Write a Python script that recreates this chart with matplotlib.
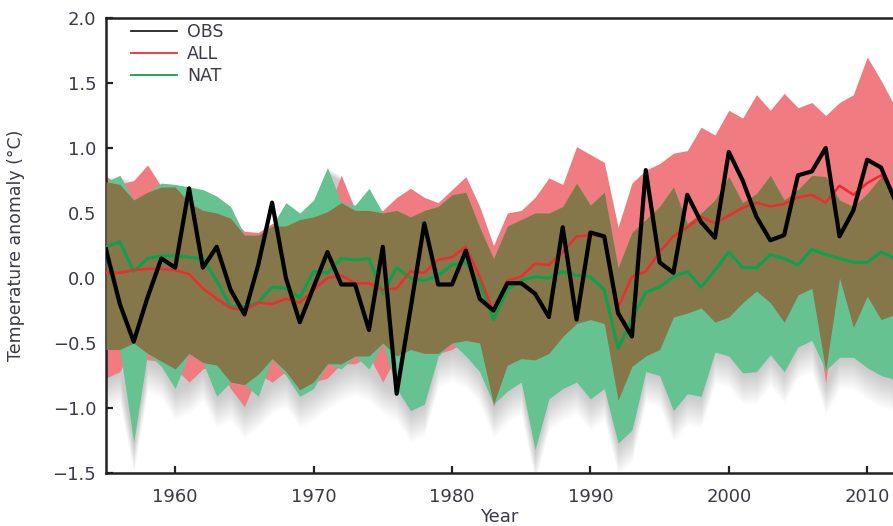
import numpy as np
import matplotlib
matplotlib.use("Agg")
import matplotlib.pyplot as plt

# Annual series, 1955-2012
years = list(range(1955, 2013))

obs = [0.22, -0.20, -0.49, -0.15, 0.15, 0.08, 0.69, 0.08, 0.24, -0.09,
       -0.28, 0.10, 0.58, 0.00, -0.34, -0.07, 0.20, -0.05, -0.05, -0.40,
       0.24, -0.89, -0.24, 0.42, -0.05, -0.05, 0.21, -0.16, -0.25, -0.04,
       -0.04, -0.12, -0.30, 0.39, -0.32, 0.35, 0.32, -0.27, -0.45, 0.83,
       0.12, 0.04, 0.64, 0.43, 0.31, 0.97, 0.75, 0.47, 0.29, 0.33,
       0.79, 0.82, 1.00, 0.32, 0.52, 0.91, 0.85, 0.60]

all_mean = [0.04, 0.04, 0.06, 0.07, 0.07, 0.06, 0.03, -0.08, -0.16, -0.23,
            -0.25, -0.19, -0.20, -0.16, -0.19, -0.09, 0.00, 0.02, -0.04, -0.04,
            -0.09, -0.08, 0.05, 0.04, 0.14, 0.16, 0.24, 0.01, -0.26, -0.02,
            0.01, 0.11, 0.10, 0.20, 0.32, 0.33, 0.32, -0.23, 0.01, 0.05,
            0.20, 0.32, 0.39, 0.47, 0.42, 0.48, 0.54, 0.58, 0.55, 0.57,
            0.62, 0.64, 0.58, 0.71, 0.64, 0.73, 0.79, 0.65]

nat_mean = [0.24, 0.28, 0.05, 0.15, 0.17, 0.17, 0.16, 0.15, -0.02, -0.22,
            -0.22, -0.19, -0.07, -0.08, -0.15, 0.05, 0.04, 0.15, 0.14, 0.15,
            -0.12, 0.08, 0.00, -0.02, 0.02, 0.10, 0.12, -0.04, -0.32, -0.09,
            -0.02, 0.01, 0.00, 0.05, 0.02, 0.01, -0.09, -0.54, -0.32, -0.11,
            -0.07, 0.01, 0.05, -0.07, 0.06, 0.20, 0.08, 0.08, 0.18, 0.15,
            0.10, 0.22, 0.18, 0.15, 0.12, 0.12, 0.20, 0.15]

# 5-95% ranges of the model ensembles
all_hi = [0.78, 0.72, 0.75, 0.87, 0.70, 0.70, 0.58, 0.52, 0.50, 0.46,
          0.36, 0.35, 0.42, 0.40, 0.45, 0.47, 0.51, 0.79, 0.52, 0.52,
          0.52, 0.62, 0.69, 0.62, 0.58, 0.68, 0.78, 0.55, 0.25, 0.50,
          0.52, 0.62, 0.77, 0.72, 1.01, 0.95, 0.89, 0.39, 0.73, 0.83,
          0.88, 0.96, 0.98, 1.16, 1.10, 1.29, 1.23, 1.41, 1.29, 1.42,
          1.31, 1.35, 1.25, 1.35, 1.41, 1.70, 1.52, 1.32]

all_lo = [-0.77, -0.72, -0.50, -0.63, -0.64, -0.70, -0.80, -0.70, -0.67, -0.85,
          -0.99, -0.74, -0.80, -0.72, -0.86, -0.80, -0.77, -0.66, -0.66, -0.60,
          -0.80, -0.60, -0.55, -0.58, -0.58, -0.55, -0.48, -0.50, -0.99, -0.67,
          -0.62, -0.63, -0.58, -0.45, -0.35, -0.32, -0.35, -0.94, -0.68, -0.60,
          -0.55, -0.30, -0.27, -0.23, -0.34, -0.30, -0.19, -0.10, -0.19, -0.34,
          -0.13, -0.08, -0.81, 0.00, -0.38, -0.14, -0.32, -0.28]

nat_hi = [0.74, 0.79, 0.60, 0.66, 0.73, 0.72, 0.70, 0.68, 0.63, 0.55,
          0.33, 0.33, 0.40, 0.58, 0.50, 0.60, 0.85, 0.58, 0.56, 0.69,
          0.50, 0.52, 0.47, 0.52, 0.55, 0.64, 0.66, 0.39, 0.15, 0.40,
          0.45, 0.50, 0.50, 0.55, 0.73, 0.56, 0.66, 0.08, 0.35, 0.45,
          0.55, 0.70, 0.42, 0.50, 0.60, 0.78, 0.58, 0.65, 0.79, 0.60,
          0.68, 0.79, 0.78, 0.60, 0.55, 0.65, 0.78, 0.65]

nat_lo = [-0.55, -0.55, -1.26, -0.58, -0.68, -0.85, -0.58, -0.65, -0.91, -0.80,
          -0.82, -0.91, -0.62, -0.75, -0.91, -0.85, -0.66, -0.70, -0.60, -0.70,
          -0.50, -0.85, -1.02, -0.97, -0.60, -0.50, -0.60, -0.72, -0.97, -0.87,
          -0.80, -1.32, -0.93, -0.85, -0.80, -0.93, -0.85, -1.27, -1.17, -0.72,
          -0.75, -1.02, -0.89, -0.91, -0.57, -0.60, -0.73, -0.72, -0.59, -0.72,
          -0.53, -0.48, -0.71, -0.61, -0.61, -0.69, -0.75, -0.78]

series_labels = ["OBS", "ALL", "NAT"]
x_ticks = [1960, 1970, 1980, 1990, 2000, 2010]
y_ticks = [-1.5, -1.0, -0.5, 0.0, 0.5, 1.0, 1.5, 2.0]

RED_FILL = "#f07b80"
GREEN_FILL = "#66c290"
OLIVE_FILL = "#86774a"
RED_LINE = "#ee2b2e"
GREEN_LINE = "#0aa24c"
TEXT = "#3a3a48"

plt.rcParams["font.family"] = ["DejaVu Sans"]

x = np.array(years, dtype=float)
a_hi, a_lo = np.array(all_hi), np.array(all_lo)
n_hi, n_lo = np.array(nat_hi), np.array(nat_lo)
ov_hi = np.minimum(a_hi, n_hi)
ov_lo = np.maximum(a_lo, n_lo)

fig = plt.figure(figsize=(8.93, 5.26), dpi=100)
ax = fig.add_axes([106 / 893, 53 / 526, 787 / 893, 455 / 526])

# soft grey shadow spreading below the ensemble envelope
env_hi = np.maximum(a_hi, n_hi)
env_lo = np.minimum(a_lo, n_lo)
for dy in np.linspace(0.015, 0.24, 14):
    ax.fill_between(x, env_lo - dy, env_hi - dy * 0.2, color="#555555",
                    alpha=0.025, lw=0, zorder=1)

ax.fill_between(x, a_lo, a_hi, color=RED_FILL, lw=0, zorder=2)
ax.fill_between(x, n_lo, n_hi, color=GREEN_FILL, lw=0, zorder=2)
ax.fill_between(x, ov_lo, ov_hi, where=ov_hi >= ov_lo, interpolate=True,
                color=OLIVE_FILL, lw=0, zorder=3)

ax.plot(x, nat_mean, color=GREEN_LINE, lw=2.2, zorder=4)
ax.plot(x, all_mean, color=RED_LINE, lw=1.8, zorder=5)
ax.plot(x, obs, color="black", lw=3.0, zorder=6)

# legend with short thin handles
handles = [plt.Line2D([], [], color=c, lw=1.3)
           for c in ["#222222", RED_LINE, GREEN_LINE]]
leg = ax.legend(handles, series_labels, loc="upper left", frameon=False,
                bbox_to_anchor=(0.018, 1.012), handlelength=2.7,
                handletextpad=0.55, labelspacing=0.22, fontsize=12.5,
                borderaxespad=0.2)
for t in leg.get_texts():
    t.set_color(TEXT)

ax.set_xlim(1955, 1955 + 787 / 13.84)
ax.set_ylim(-1.5, 2.0)
ax.set_xticks(x_ticks)
ax.set_yticks(y_ticks)
ax.set_yticklabels([f"{v:.1f}".replace("-", "\u2212") for v in y_ticks])
ax.tick_params(direction="in", length=5, width=1.6, labelsize=13,
               colors=TEXT, pad=7)
ax.tick_params(axis="x", pad=11)
ax.tick_params(color="#222222")
for s in ["left", "bottom", "top"]:
    ax.spines[s].set_linewidth(1.8)
    ax.spines[s].set_color("#222222")
ax.spines["right"].set_visible(False)

ax.set_xlabel("Year", fontsize=13, color=TEXT, labelpad=1)
ax.yaxis.set_label_coords(-0.103, 0.51)
ax.set_ylabel("Temperature anomaly (°C)", fontsize=12.5, color=TEXT,
              family=["Liberation Sans Narrow", "DejaVu Sans"])

fig.savefig("out.png", dpi=100)
